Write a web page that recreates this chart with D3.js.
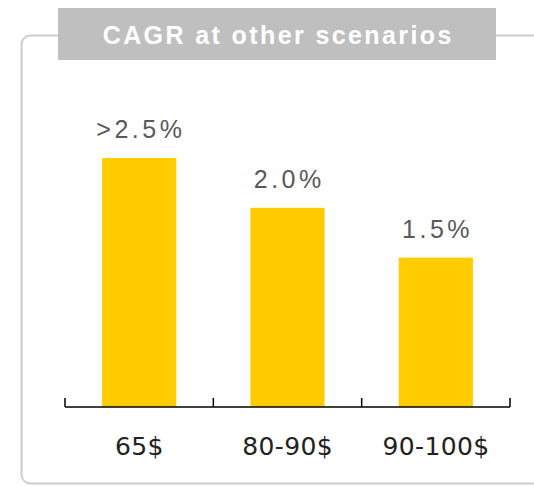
<!DOCTYPE html>
<html>
<head>
<meta charset="utf-8">
<script src="https://cdn.jsdelivr.net/npm/d3@7"></script>
<style>
  body { margin: 0; background: #fff; }
</style>
</head>
<body>
<svg></svg>
<script>
const scenarios = ['65$', '80-90$', '90-100$']
const cagr = [2.5, 2.0, 1.5]
const cagrLabels = ['>2.5%', '2.0%', '1.5%']
const title = 'CAGR at other scenarios'

function drawChart() {
	const width = 534
	const height = 486
	const baseline = 407

	const svg = d3.select('svg')
		.attr('width', width)
		.attr('height', height)

	// frame round the panel, runs off the right edge
	svg.append('rect')
		.attr('x', 21.5)
		.attr('y', 35.5)
		.attr('width', 620)
		.attr('height', 448)
		.attr('rx', 9)
		.attr('fill', 'none')
		.attr('stroke', '#cccccc')
		.attr('stroke-width', 2)

	// title box
	svg.append('rect')
		.attr('x', 58)
		.attr('y', 8)
		.attr('width', 438)
		.attr('height', 52)
		.attr('fill', '#bfbfbf')

	svg.append('text')
		.attr('x', 277)
		.attr('dx', 1.25)
		.attr('y', 44)
		.attr('text-anchor', 'middle')
		.attr('font-family', '"Liberation Sans", Arial, sans-serif')
		.attr('font-weight', 700)
		.attr('font-size', '25px')
		.attr('letter-spacing', 2.4)
		.attr('fill', '#fff')
		.text(title)

	const x = d3.scaleBand()
		.domain(scenarios)
		.range([65, 510])
		.paddingInner(0.5)
		.paddingOuter(0.25)

	const y = d3.scaleLinear()
		.domain([0, 2.5])
		.range([baseline, 158])

	const data = scenarios.map((s, i) => ({name: s, value: cagr[i], label: cagrLabels[i]}))

	svg.append('g')
		.selectAll('rect')
		.data(data)
		.join('rect')
			.attr('x', d => x(d.name))
			.attr('y', d => y(d.value))
			.attr('width', x.bandwidth())
			.attr('height', d => baseline - y(d.value))
			.attr('fill', '#ffcc00')

	svg.append('g')
		.selectAll('text')
		.data(data)
		.join('text')
			.attr('x', d => x(d.name) + x.bandwidth() / 2)
			.attr('dx', 1.75)
			.attr('y', d => y(d.value) - 20)
			.attr('text-anchor', 'middle')
			.attr('font-family', '"Liberation Sans", Arial, sans-serif')
			.attr('font-size', '25px')
			.attr('letter-spacing', 3.5)
			.attr('fill', '#595959')
			.text(d => d.label)

	// axis: line with ticks on the band edges, pointing up
	const edges = [65].concat(scenarios.map(s => x(s) + x.bandwidth() + x.step() * 0.25))
	const axis = svg.append('g')
		.attr('stroke', '#000')
		.attr('stroke-width', 1.5)
	axis.append('line')
		.attr('x1', 65)
		.attr('x2', 510)
		.attr('y1', baseline)
		.attr('y2', baseline)
	axis.selectAll('.tick')
		.data(edges)
		.join('line')
			.attr('class', 'tick')
			.attr('x1', d => d)
			.attr('x2', d => d)
			.attr('y1', baseline - 9)
			.attr('y2', baseline)

	svg.append('g')
		.selectAll('text')
		.data(scenarios)
		.join('text')
			.attr('x', d => x(d) + x.bandwidth() / 2)
			.attr('dx', 0.2)
			.attr('y', 455)
			.attr('text-anchor', 'middle')
			.attr('font-family', '"DejaVu Sans", Verdana, sans-serif')
			.attr('font-size', '25px')
			.attr('letter-spacing', 0.4)
			.attr('fill', '#222')
			.text(d => d)
}

drawChart()
</script>
</body>
</html>
